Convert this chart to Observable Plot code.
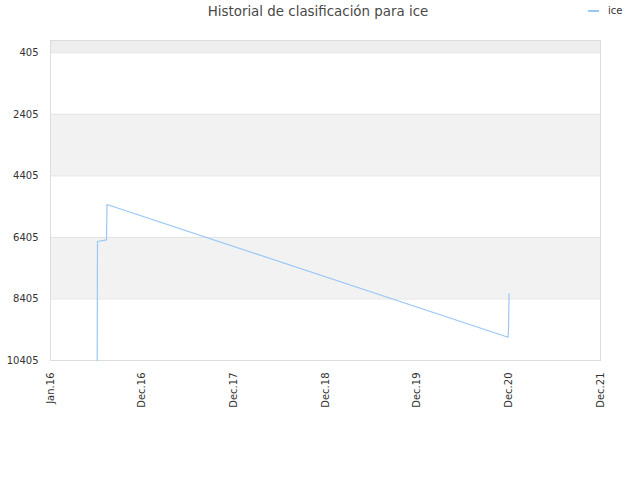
<!DOCTYPE html>
<html>
<head>
<meta charset="utf-8">
<script src="https://cdn.jsdelivr.net/npm/d3@7"></script>
<script src="https://cdn.jsdelivr.net/npm/@observablehq/plot@0.6"></script>
<style>
  body { margin: 0; background: #fff; font-family: "DejaVu Sans", sans-serif; }
  #wrap { position: relative; width: 640px; height: 480px; }
  #title { position: absolute; top: 4px; left: 0; width: 636px; text-align: center; font-size: 13.4px; color: #484848; }
  #legend { position: absolute; top: 5px; left: 588px; font-size: 10px; color: #333; display: flex; align-items: center; }
  #legend span.sw { display: inline-block; width: 11px; height: 2px; background: #99c8f5; margin-right: 9px; }
</style>
</head>
<body>
<div id="wrap">
  <div id="title">Historial de clasificación para ice</div>
  <div id="legend"><span class="sw"></span><span>ice</span></div>
  <div id="chart"></div>
</div>
<script>
const dates = ["2016-07-05","2016-07-06","2016-08-11","2016-08-13","2020-12-27","2020-12-29","2020-12-31"];
const ranks = [10405, 6538, 6482, 5335, 9648, 9300, 8237];

const yTicks = [405, 2405, 4405, 6405, 8405, 10405];
const xTickDates = ["2016-01-01","2016-12-31","2017-12-31","2018-12-31","2019-12-31","2020-12-30","2021-12-30"];
const xTickLabels = ["Jan.16","Dec.16","Dec.17","Dec.18","Dec.19","Dec.20","Dec.21"];

const bandStarts = [5, 2405, 6405];
const bandEnds = [405, 4405, 8405];
const bandColors = ["#eeeeee", "#f2f2f2", "#f2f2f2"];

const data = dates.map((d, i) => ({date: new Date(d + "T00:00:00Z"), rank: ranks[i]}));
const xTicks = xTickDates.map(d => new Date(d + "T00:00:00Z"));
const bands = bandStarts.map((s, i) => ({y1: s, y2: bandEnds[i], fill: bandColors[i]}));
const labelOf = new Map(xTicks.map((d, i) => [+d, xTickLabels[i]]));

const chart = Plot.plot({
  width: 640,
  height: 480,
  marginLeft: 50,
  marginRight: 40,
  marginTop: 40,
  marginBottom: 120,
  style: {fontFamily: "DejaVu Sans, sans-serif", fontSize: "10px", color: "#333", background: "#fff"},
  x: {type: "utc", domain: [xTicks[0], xTicks[xTicks.length - 1]]},
  y: {domain: [5, 10405], reverse: true},
  marks: [
    Plot.rect(bands, {y1: "y1", y2: "y2", fill: d => d.fill}),
    Plot.ruleY(yTicks, {stroke: "#e3e3e3"}),
    Plot.frame({stroke: "#dddddd"}),
    Plot.line(data, {x: "date", y: "rank", stroke: "#99c8f5", strokeWidth: 1.2}),
    Plot.axisY({ticks: yTicks, tickSize: 0, tickPadding: 12, label: null, tickFormat: d => String(d)}),
    Plot.axisX({ticks: xTicks, tickSize: 0, tickPadding: 12, tickRotate: -90, label: null, tickFormat: d => labelOf.get(+d)})
  ]
});
document.getElementById("chart").appendChild(chart);
</script>
</body>
</html>
